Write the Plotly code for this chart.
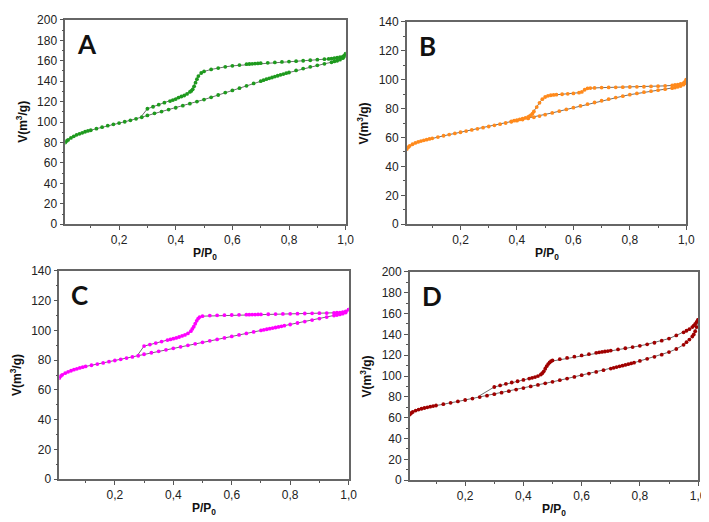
import plotly.graph_objects as go

# ---------------- data ----------------
a_ads_x = [0.010,0.015,0.02,0.03,0.04,0.05,0.06,0.07,0.08,0.09,0.10,0.12,0.14,0.16,0.18,0.20,0.22,0.24,0.26,0.28,0.30,0.325,0.35,0.375,0.40,0.425,0.45,0.475,0.50,0.525,0.55,0.575,0.60,0.625,0.65,0.675,0.70,0.71,0.72,0.73,0.74,0.75,0.76,0.77,0.78,0.79,0.80,0.825,0.85,0.875,0.90,0.925,0.95,0.96,0.97,0.98,0.99,0.995,1.0]
a_ads_y = [80,81.5,82.5,84.5,86,87.5,88.5,89.5,90.5,91.3,92,93.5,95,96.5,97.8,99,100.3,101.7,103.2,104.7,106.5,108.5,110.3,112.2,114,116,118,120,122,124.2,126.5,128.8,131,133.2,135.5,137.8,140,141,142,142.8,143.6,144.5,145.3,146.2,147,147.8,148.5,150.5,152.3,154,155.5,157,158.5,159.3,160,161,162.5,164,166.5]
a_des_x = [1.0,0.995,0.99,0.98,0.97,0.96,0.95,0.94,0.925,0.90,0.875,0.85,0.825,0.80,0.775,0.75,0.725,0.70,0.69,0.68,0.67,0.66,0.65,0.625,0.60,0.575,0.55,0.525,0.50,0.49,0.48,0.475,0.47,0.465,0.46,0.455,0.45,0.44,0.43,0.42,0.41,0.40,0.39,0.38,0.36,0.34,0.32,0.30]
a_des_y = [167,165,164,163.5,163,162.5,162,161.8,161.5,161,160.5,160,159.6,159.2,158.8,158.4,158,157.6,157.4,157.2,157,156.8,156.6,155.8,155,154,152.8,151.5,149.5,148,145,142,138.5,135,132,130.5,129.5,127.5,126,125,124,122.5,121.5,120.5,119,117,115,113]
a_close = (0.28, 106.0)

b_ads_x = [0.01,0.015,0.02,0.03,0.04,0.05,0.06,0.07,0.08,0.09,0.10,0.12,0.14,0.16,0.18,0.20,0.22,0.24,0.26,0.28,0.30,0.32,0.34,0.36,0.38,0.40,0.42,0.44,0.46,0.48,0.50,0.525,0.55,0.575,0.60,0.625,0.65,0.675,0.70,0.725,0.75,0.775,0.80,0.825,0.85,0.875,0.90,0.925,0.95,0.96,0.97,0.98,0.99,0.995,1.0]
b_ads_y = [52,53.3,54.2,55.3,56.2,56.9,57.5,58,58.5,59,59.4,60.3,61.2,62,62.8,63.6,64.4,65.2,66,66.8,67.6,68.4,69.2,70,70.8,71.6,72.4,73.2,74,74.8,75.8,77,78.2,79.4,80.6,81.8,83,84.2,85.4,86.5,87.6,88.6,89.6,90.5,91.3,92,92.7,93.4,94.1,94.5,95,95.6,96.5,97.5,100]
b_des_x = [1.0,0.995,0.99,0.98,0.97,0.96,0.95,0.925,0.90,0.875,0.85,0.825,0.80,0.775,0.75,0.725,0.70,0.675,0.66,0.65,0.64,0.63,0.62,0.60,0.58,0.56,0.54,0.53,0.52,0.51,0.50,0.49,0.48,0.47,0.46,0.455,0.45,0.445,0.44,0.43,0.42,0.41,0.40,0.39,0.38]
b_des_y = [100,98.5,97.5,97,96.6,96.3,96,95.7,95.5,95.3,95.1,95,94.9,94.8,94.7,94.6,94.5,94.3,94.2,94,93,91.5,91,90.5,90.2,89.9,89.6,89.4,89.2,88.8,88,86.5,84,81,78,76.5,75.5,74.8,74.2,73.5,73,72.5,72,71.6,71.2]
b_close = None

c_ads_x = [0.01,0.015,0.02,0.03,0.04,0.05,0.06,0.07,0.08,0.09,0.10,0.12,0.14,0.16,0.18,0.20,0.22,0.24,0.26,0.28,0.30,0.325,0.35,0.375,0.40,0.425,0.45,0.475,0.50,0.525,0.55,0.575,0.60,0.625,0.65,0.675,0.70,0.71,0.72,0.73,0.74,0.75,0.76,0.77,0.78,0.80,0.825,0.85,0.875,0.90,0.925,0.95,0.96,0.97,0.98,0.99,1.0]
c_ads_y = [68,69.3,70.2,71.3,72.2,72.9,73.6,74.2,74.8,75.3,75.8,76.6,77.4,78.2,79,79.8,80.6,81.4,82.2,83,84,85,86,87,88,89,90,91,92,93,94,95,96,97,98,99,100,100.4,100.8,101.2,101.6,102,102.4,102.8,103.2,104,105,106,107,108,109,110,110.4,110.8,111.3,112,114]
c_des_x = [1.0,0.99,0.98,0.97,0.96,0.95,0.925,0.90,0.875,0.85,0.825,0.80,0.775,0.75,0.725,0.70,0.69,0.68,0.67,0.66,0.65,0.625,0.60,0.575,0.55,0.525,0.50,0.49,0.485,0.48,0.475,0.47,0.465,0.46,0.45,0.44,0.43,0.42,0.41,0.40,0.39,0.38,0.36,0.34,0.32,0.30]
c_des_y = [114,112.8,112.3,112,111.9,111.8,111.7,111.6,111.5,111.4,111.3,111.2,111.1,111,110.9,110.8,110.8,110.7,110.7,110.6,110.6,110.5,110.4,110.3,110.2,110,109.6,109,108,106.5,104.5,102.5,101,99.5,98,97,96.3,95.6,95,94.5,94,93.5,92.5,91.5,90.5,89.5]
c_close = (0.28, 84.0)

d_ads_x = [0.01,0.015,0.02,0.03,0.04,0.05,0.06,0.07,0.08,0.09,0.10,0.125,0.15,0.175,0.20,0.225,0.25,0.275,0.30,0.325,0.35,0.375,0.40,0.425,0.45,0.475,0.50,0.525,0.55,0.575,0.60,0.625,0.65,0.675,0.70,0.71,0.72,0.73,0.74,0.75,0.76,0.77,0.78,0.80,0.825,0.85,0.875,0.90,0.925,0.95,0.96,0.97,0.98,0.985,0.99,0.995,1.0]
d_ads_y = [63,64.5,65.5,66.8,67.8,68.6,69.3,70,70.6,71.2,71.7,73,74.3,75.6,77,78.4,79.8,81.2,82.6,84,85.5,87,88.5,90,91.5,93,94.5,96,97.6,99.2,100.8,102.4,104,105.6,107.2,107.9,108.6,109.3,110,110.7,111.4,112.1,112.8,114.5,116.5,118.5,120.5,123,126,130,132.5,135,138,140,143,147,154]
d_des_x = [1.0,0.995,0.99,0.985,0.98,0.97,0.96,0.95,0.925,0.90,0.875,0.85,0.825,0.80,0.775,0.75,0.725,0.70,0.69,0.68,0.67,0.66,0.65,0.625,0.60,0.575,0.55,0.525,0.50,0.495,0.49,0.485,0.48,0.475,0.47,0.465,0.46,0.45,0.44,0.43,0.42,0.40,0.38,0.36,0.34,0.32,0.30]
d_des_y = [154,152,150,148.5,147,145,143.5,142,139,136,134,132,130.5,129,127.8,126.7,125.6,124.5,124,123.6,123.2,122.8,122.3,121,119.8,118.6,117.4,116.2,115,114.2,113,111.5,109.5,107,104.5,102.8,101.5,100,99,98.3,97.6,96.3,95,93.8,92.5,91,89.5]
d_close = (0.25, 81.2)

x_tickvals = [0.2, 0.4, 0.6, 0.8, 1.0]
x_ticktext = ["0,2", "0,4", "0,6", "0,8", "1,0"]

panels = [
    dict(letter="A", color="#1e9a1e", ads=(a_ads_x, a_ads_y), des=(a_des_x, a_des_y), close=a_close,
         ymax=200, dom_x=(58, 342), dom_y=(5, 215)),
    dict(letter="B", color="#ff8a1c", ads=(b_ads_x, b_ads_y), des=(b_des_x, b_des_y), close=b_close,
         ymax=140, dom_x=(404, 687), dom_y=(7, 215)),
    dict(letter="C", color="#ff00ff", ads=(c_ads_x, c_ads_y), des=(c_des_x, c_des_y), close=c_close,
         ymax=140, dom_x=(52, 345), dom_y=(263, 477)),
    dict(letter="D", color="#a00000", ads=(d_ads_x, d_ads_y), des=(d_des_x, d_des_y), close=d_close,
         ymax=200, dom_x=(407, 699), dom_y=(264, 478)),
]

W, H = 709, 522
fig = go.Figure()
layout = dict(width=W, height=H, margin=dict(l=0, r=0, t=0, b=0),
              paper_bgcolor="white", plot_bgcolor="white", showlegend=False)
annotations = []
tick_font = dict(family="Liberation Sans, Arial", size=12, color="#222")
title_font = dict(family="Liberation Sans, Arial", size=12, color="#111")

for i, p in enumerate(panels):
    n = i + 1
    xa = "x" if n == 1 else f"x{n}"
    ya = "y" if n == 1 else f"y{n}"
    ax, ay = p["ads"]
    dx, dy = p["des"]
    lx = list(ax) + list(dx)
    ly = list(ay) + list(dy)
    if p["close"] is not None:
        lx.append(p["close"][0]); ly.append(p["close"][1])
    fig.add_trace(go.Scatter(x=lx, y=ly, mode="lines", xaxis=xa, yaxis=ya,
                             line=dict(color="#6e6e6e", width=1), hoverinfo="skip"))
    fig.add_trace(go.Scatter(x=list(ax) + list(dx), y=list(ay) + list(dy), mode="markers",
                             xaxis=xa, yaxis=ya,
                             marker=dict(color=p["color"], size=3.8, line=dict(width=0))))
    x0, x1 = p["dom_x"]; y0, y1 = p["dom_y"]
    xkey = "xaxis" if n == 1 else f"xaxis{n}"
    ykey = "yaxis" if n == 1 else f"yaxis{n}"
    layout[xkey] = dict(domain=[x0 / W, x1 / W], anchor=ya, range=[0.01, 1.0],
                        tickvals=x_tickvals, ticktext=x_ticktext, ticks="outside", ticklen=4,
                        tickcolor="#555", showline=True, linecolor="#666", linewidth=1.5,
                        mirror=True, showgrid=False, zeroline=False, tickfont=tick_font,
                        minor=dict(tickvals=[0.1, 0.3, 0.5, 0.7, 0.9], ticks="outside", ticklen=2,
                                   tickcolor="#555", showgrid=False))
    ymax = p["ymax"]
    layout[ykey] = dict(domain=[1 - y1 / H, 1 - y0 / H], anchor=xa, range=[0, ymax],
                        dtick=20, ticks="outside", ticklen=4, tickcolor="#555",
                        showline=True, linecolor="#666", linewidth=1.5, mirror=True,
                        showgrid=False, zeroline=False, tickfont=tick_font,
                        minor=dict(dtick=10, ticks="outside", ticklen=2, tickcolor="#555",
                                   showgrid=False))
    # panel letter
    annotations.append(dict(text=f"<b>{p['letter']}</b>", xref=f"{xa} domain", yref=f"{ya} domain",
                            x=0.035, y=0.97, xanchor="left", yanchor="top", showarrow=False,
                            font=dict(family="Lato", size=26, color="#111")))
    # axis titles
    annotations.append(dict(text="<b>P/P<sub>0</sub></b>", xref="paper", yref="paper",
                            x=(x0 + x1) / 2 / W, y=1 - (y1 + 31) / H, xanchor="center", yanchor="middle",
                            showarrow=False, font=title_font))
    annotations.append(dict(text="<b>V(m<sup>3</sup>/g)</b>", xref="paper", yref="paper",
                            x=(x0 - 44) / W, y=1 - (y0 + y1) / 2 / H, xanchor="center", yanchor="middle",
                            textangle=-90, showarrow=False, font=title_font))

layout["annotations"] = annotations
fig.update_layout(**layout)
fig.write_html("out.html")
